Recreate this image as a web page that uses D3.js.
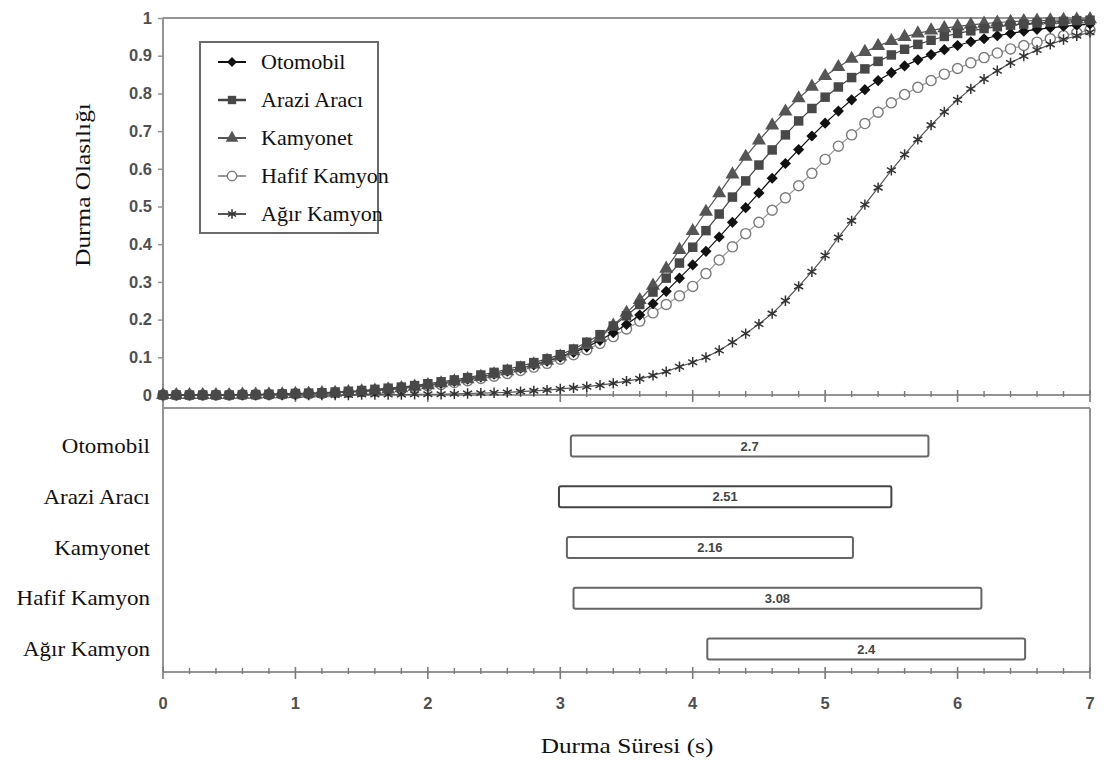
<!DOCTYPE html>
<html>
<head>
<meta charset="utf-8">
<script src="https://cdn.jsdelivr.net/npm/d3@7"></script>
<style>
  body { margin: 0; background: #fff; }
  svg { display: block; }
</style>
</head>
<body>
<svg id="chart" width="1107" height="762"></svg>
<script>
// Stopping time grid (s), one observation every 0.1 s
const times = d3.range(71).map(i => i / 10);

// Cumulative stopping probability per vehicle class
const otomobil = [
  0,0,0,0,0,0,0.001,0.001,0.002,0.002,
  0.003,0.004,0.005,0.006,0.008,0.010,0.012,0.015,0.018,0.022,
  0.026,0.031,0.036,0.042,0.048,0.055,0.063,0.071,0.080,0.090,
  0.100,0.113,0.127,0.145,0.165,0.187,0.212,0.242,0.275,0.310,
  0.345,0.381,0.419,0.458,0.497,0.536,0.575,0.614,0.651,0.687,
  0.721,0.753,0.783,0.810,0.834,0.855,0.873,0.889,0.903,0.916,
  0.927,0.937,0.945,0.953,0.959,0.965,0.970,0.974,0.978,0.981,
  0.984];
const araziAraci = [
  0,0,0,0,0,0,0.001,0.001,0.002,0.003,
  0.004,0.005,0.006,0.008,0.010,0.012,0.015,0.018,0.021,0.025,
  0.030,0.035,0.040,0.046,0.053,0.060,0.068,0.077,0.086,0.096,
  0.107,0.122,0.140,0.160,0.183,0.210,0.240,0.273,0.310,0.350,
  0.392,0.436,0.480,0.525,0.568,0.610,0.650,0.690,0.727,0.760,
  0.790,0.817,0.842,0.865,0.885,0.902,0.917,0.930,0.941,0.951,
  0.959,0.966,0.972,0.977,0.981,0.984,0.987,0.989,0.991,0.993,
  0.994];
const kamyonet = [
  0,0,0,0,0,0,0.001,0.001,0.002,0.002,
  0.003,0.004,0.005,0.006,0.008,0.010,0.012,0.015,0.018,0.022,
  0.026,0.031,0.036,0.042,0.048,0.055,0.063,0.071,0.081,0.091,
  0.102,0.116,0.133,0.152,0.184,0.218,0.252,0.290,0.335,0.385,
  0.435,0.486,0.535,0.585,0.632,0.675,0.715,0.752,0.787,0.818,
  0.846,0.870,0.892,0.910,0.926,0.939,0.950,0.959,0.967,0.973,
  0.978,0.982,0.985,0.988,0.990,0.992,0.993,0.994,0.995,0.996,
  0.997];
const hafifKamyon = [
  0,0,0,0,0,0,0.001,0.001,0.001,0.002,
  0.003,0.003,0.004,0.006,0.007,0.009,0.011,0.014,0.017,0.020,
  0.024,0.028,0.033,0.038,0.044,0.050,0.057,0.065,0.074,0.084,
  0.095,0.107,0.120,0.137,0.155,0.175,0.196,0.218,0.240,0.263,
  0.288,0.322,0.358,0.393,0.428,0.458,0.490,0.523,0.555,0.588,
  0.625,0.660,0.690,0.720,0.750,0.775,0.797,0.816,0.834,0.851,
  0.866,0.881,0.895,0.907,0.918,0.927,0.936,0.945,0.953,0.961,
  0.968];
const agirKamyon = [
  0,0,0,0,0,0,0,0,0,0,
  0,0,0,0,0,0.001,0.001,0.001,0.001,0.002,
  0.002,0.002,0.003,0.004,0.005,0.006,0.007,0.009,0.011,0.013,
  0.016,0.019,0.022,0.026,0.031,0.037,0.043,0.052,0.062,0.075,
  0.087,0.100,0.118,0.140,0.163,0.188,0.216,0.250,0.288,0.327,
  0.370,0.418,0.462,0.505,0.550,0.596,0.638,0.678,0.716,0.751,
  0.783,0.812,0.838,0.860,0.881,0.899,0.915,0.930,0.943,0.953,
  0.962];

const seriesNames = ["Otomobil", "Arazi Aracı", "Kamyonet", "Hafif Kamyon", "Ağır Kamyon"];

// Stopping-time ranges shown as bars in the lower panel
const barCategories = ["Otomobil", "Arazi Aracı", "Kamyonet", "Hafif Kamyon", "Ağır Kamyon"];
const barStarts = [3.08, 2.99, 3.05, 3.10, 4.11];
const barDurations = [2.7, 2.51, 2.16, 3.08, 2.4];
const barLabels = ["2.7", "2.51", "2.16", "3.08", "2.4"];

const yTicks = [0, 0.1, 0.2, 0.3, 0.4, 0.5, 0.6, 0.7, 0.8, 0.9, 1];
const yTickLabels = ["0", "0.1", "0.2", "0.3", "0.4", "0.5", "0.6", "0.7", "0.8", "0.9", "1"];
const xTicks = [0, 1, 2, 3, 4, 5, 6, 7];
const xMinorTicks = d3.range(0, 36).map(i => i / 5);

const svg = d3.select("#chart");
const frameColor = "#949494";
const serif = "'Liberation Serif', 'Times New Roman', serif";
const sans = "'Liberation Sans', Arial, sans-serif";

const x = d3.scaleLinear().domain([0, 7]).range([163, 1090]);
const y = d3.scaleLinear().domain([0, 1]).range([395, 18]);
const yBand = d3.scaleBand().domain(barCategories).range([420.6, 674.4])
  .paddingInner(0.586).paddingOuter(0.293);

const topPanel = { top: y(1), bottom: y(0) };
const botPanel = { top: 408, bottom: 672 };

// ---------- frames ----------
function frameLine(x1, y1, x2, y2) {
  svg.append("line").attr("x1", x1).attr("y1", y1).attr("x2", x2).attr("y2", y2)
    .attr("stroke", frameColor).attr("stroke-width", 2);
}
frameLine(x(0), topPanel.top, x(7), topPanel.top);
frameLine(x(7), topPanel.top, x(7), topPanel.bottom);
frameLine(x(0), topPanel.top, x(0), botPanel.bottom);
frameLine(x(0), botPanel.top, x(7), botPanel.top);
frameLine(x(7), botPanel.top, x(7), botPanel.bottom);

// ---------- left axis of upper panel ----------
const yAxis = svg.append("g").attr("transform", `translate(${x(0)},0)`)
  .call(d3.axisLeft(y).tickValues(yTicks).tickSize(5).tickPadding(6)
    .tickFormat((d, i) => yTickLabels[i]));
yAxis.select(".domain").remove();
yAxis.selectAll(".tick line").attr("stroke", frameColor).attr("stroke-width", 1.5);
yAxis.selectAll(".tick text").attr("font-family", sans).attr("font-size", 16.5)
  .attr("font-weight", "bold").attr("fill", "#505050");

// ---------- horizontal axes with cross ticks ----------
function timeAxis(yPos, withLabels) {
  const g = svg.append("g");
  g.append("line").attr("x1", x(0)).attr("x2", x(7)).attr("y1", yPos).attr("y2", yPos)
    .attr("stroke", frameColor).attr("stroke-width", 2);
  g.selectAll("line.minor").data(xMinorTicks.filter(t => !xTicks.includes(t))).join("line")
    .attr("class", "minor")
    .attr("x1", d => x(d)).attr("x2", d => x(d))
    .attr("y1", yPos - 4).attr("y2", yPos + 2)
    .attr("stroke", "#7a7a7a").attr("stroke-width", 1.4);
  g.selectAll("line.major").data(xTicks).join("line")
    .attr("class", "major")
    .attr("x1", d => x(d)).attr("x2", d => x(d))
    .attr("y1", yPos - 5).attr("y2", yPos + 7)
    .attr("stroke", "#7a7a7a").attr("stroke-width", 1.6);
  if (withLabels) {
    g.selectAll("text").data(xTicks).join("text")
      .attr("x", d => x(d)).attr("y", yPos + 37)
      .attr("text-anchor", "middle")
      .attr("font-family", sans).attr("font-size", 16.5).attr("font-weight", "bold")
      .attr("fill", "#505050")
      .text(d => d);
  }
}
timeAxis(topPanel.bottom, false);
timeAxis(botPanel.bottom, true);

// ---------- curves ----------
const seriesData = [otomobil, araziAraci, kamyonet, hafifKamyon, agirKamyon];
const styles = [
  { line: "#111", symbol: d3.symbolSquare, size: 62, rotate: 45, fill: "#111", stroke: "none", lw: 0 },
  { line: "#444", symbol: d3.symbolSquare, size: 90, rotate: 0, fill: "#484848", stroke: "none", lw: 0 },
  { line: "#555", symbol: d3.symbolTriangle, size: 85, rotate: 0, fill: "#555", stroke: "none", lw: 0 },
  { line: "#999", symbol: d3.symbolCircle, size: 80, rotate: 0, fill: "#fff", stroke: "#7a7a7a", lw: 1.4 },
  { line: "#555", symbol: d3.symbolAsterisk, size: 75, rotate: 0, fill: "none", stroke: "#333", lw: 1.5 }
];
const legendSizes = [48, 70, 70, 70, 60];
const drawOrder = [3, 4, 0, 2, 1];
const line = d3.line().x((d, i) => x(times[i])).y(d => y(d));

drawOrder.forEach(k => {
  const st = styles[k];
  const g = svg.append("g").attr("class", "series");
  g.append("path").datum(seriesData[k]).attr("d", line)
    .attr("fill", "none").attr("stroke", st.line).attr("stroke-width", 1.2);
  g.selectAll("path.mark").data(seriesData[k]).join("path").attr("class", "mark")
    .attr("transform", (d, i) => `translate(${x(times[i])},${y(d)}) rotate(${st.rotate})`)
    .attr("d", d3.symbol(st.symbol, st.size))
    .attr("fill", st.fill).attr("stroke", st.stroke).attr("stroke-width", st.lw);
});

// ---------- legend ----------
const legend = svg.append("g");
legend.append("rect").attr("x", 200).attr("y", 42).attr("width", 178).attr("height", 191)
  .attr("fill", "#fff").attr("stroke", "#6a6a6a").attr("stroke-width", 2);
const legendY = d3.scalePoint().domain(seriesNames).range([62, 214]);
seriesNames.forEach((name, k) => {
  const st = styles[k];
  const ly = legendY(name);
  legend.append("line").attr("x1", 218).attr("x2", 246).attr("y1", ly).attr("y2", ly)
    .attr("stroke", st.line).attr("stroke-width", k === 1 ? 2.5 : 2);
  legend.append("path")
    .attr("transform", `translate(232,${ly}) rotate(${st.rotate})`)
    .attr("d", d3.symbol(st.symbol, legendSizes[k]))
    .attr("fill", st.fill).attr("stroke", st.stroke).attr("stroke-width", st.lw);
  legend.append("text").attr("transform", `translate(261,${ly}) scale(1.05,1)`)
    .attr("dy", "0.35em")
    .attr("font-family", serif).attr("font-size", 21).attr("fill", "#111")
    .text(name);
});

// ---------- range bars ----------
const bars = svg.append("g");
barCategories.forEach((c, i) => {
  const bx = x(barStarts[i]);
  const bw = x(barStarts[i] + barDurations[i]) - bx;
  bars.append("rect").attr("x", bx).attr("y", yBand(c))
    .attr("width", bw).attr("height", yBand.bandwidth())
    .attr("rx", 2).attr("fill", "#fff")
    .attr("stroke", i === 1 ? "#444" : "#666").attr("stroke-width", 2);
  bars.append("text").attr("x", bx + bw / 2).attr("y", yBand(c) + yBand.bandwidth() / 2)
    .attr("dy", "0.35em").attr("text-anchor", "middle")
    .attr("font-family", sans).attr("font-size", 13).attr("font-weight", "bold")
    .attr("fill", "#444").text(barLabels[i]);
  bars.append("text")
    .attr("transform", `translate(150,${yBand(c) + yBand.bandwidth() / 2}) scale(1.15,1)`)
    .attr("dy", "0.35em").attr("text-anchor", "end")
    .attr("font-family", serif).attr("font-size", 20).attr("fill", "#111")
    .text(c);
});

// ---------- axis titles ----------
svg.append("text").attr("transform", "translate(82,185) rotate(-90) scale(1.15,1)")
  .attr("dy", "0.35em").attr("text-anchor", "middle")
  .attr("font-family", serif).attr("font-size", 22).attr("fill", "#111")
  .text("Durma Olasılığı");
svg.append("text").attr("transform", "translate(627,745) scale(1.15,1)")
  .attr("dy", "0.35em").attr("text-anchor", "middle")
  .attr("font-family", serif).attr("font-size", 22).attr("fill", "#111")
  .text("Durma Süresi (s)");
</script>
</body>
</html>
